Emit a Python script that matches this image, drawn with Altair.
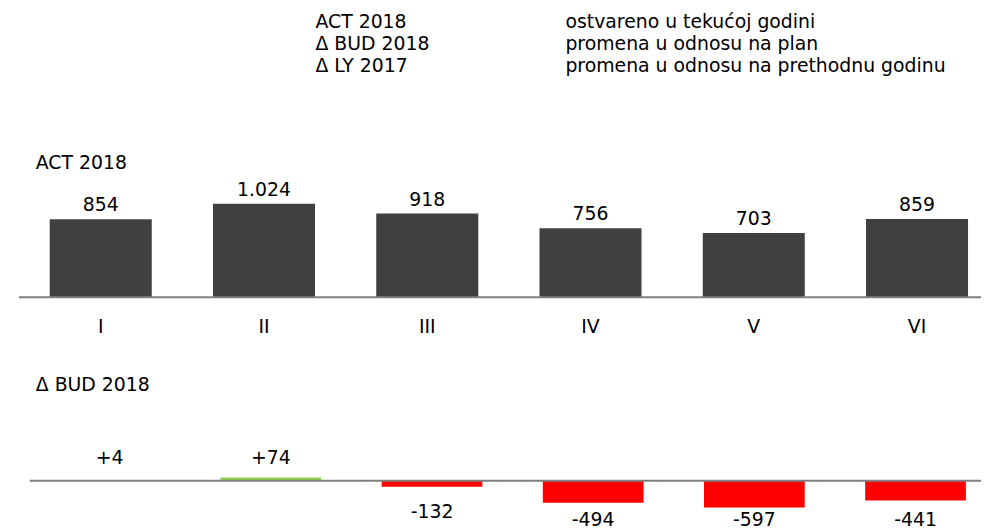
import altair as alt
import pandas as pd

# ---- data ----
months = ["I", "II", "III", "IV", "V", "VI"]
act_2018 = [854, 1024, 918, 756, 703, 859]
delta_bud = [4, 74, -132, -494, -597, -441]

legend_keys = ["ACT 2018", "Δ BUD 2018", "Δ LY 2017"]
legend_desc = [
    "ostvareno u tekućoj godini",
    "promena u odnosu na plan",
    "promena u odnosu na prethodnu godinu",
]
section_titles = ["ACT 2018", "Δ BUD 2018"]

FONT = "DejaVu Sans"
FS = 19
DARK = "#404040"
RED = "#FF0000"
GREEN = "#92D050"
AXIS = "#808080"

df = pd.DataFrame({
    "m": months,
    "act": act_2018,
    "bud": delta_bud,
    "act_lbl": [f"{v:,}".replace(",", ".") for v in act_2018],
    "bud_lbl": [f"{v:+d}" for v in delta_bud],
})
leg = pd.DataFrame({"row": list(range(len(legend_keys))), "k": legend_keys, "d": legend_desc})
zero = pd.DataFrame({"z": [0]})

xs_top = alt.Scale(domain=months, range=[11.2, 998.8], paddingInner=0.375, paddingOuter=0.1875)
ys_top = alt.Scale(domain=[0, 1000], range=[289.5, 197.5], nice=False, zero=False)
xs_bot = alt.Scale(domain=months, range=[21.25, 996.25], paddingInner=0.375, paddingOuter=0.1875)
ys_bot = alt.Scale(domain=[-600, 600], range=[501.5, 447.5], nice=False, zero=False)

base = alt.Chart(df)

# ---- top panel: ACT 2018 ----
top_bars = base.mark_bar(color=DARK).encode(
    x=alt.X("m:N", sort=months, scale=xs_top, axis=None),
    y=alt.Y("act:Q", scale=ys_top, axis=None),
    y2=alt.Y2(datum=0),
)
top_vals = base.mark_text(font=FONT, fontSize=FS, color="#000", baseline="middle", dy=-14).encode(
    x=alt.X("m:N", sort=months, scale=xs_top, axis=None),
    y=alt.Y("act:Q", scale=ys_top, axis=None),
    text="act_lbl:N",
)
top_cats = base.mark_text(font=FONT, fontSize=FS, color="#000", baseline="middle", dy=30).encode(
    x=alt.X("m:N", sort=months, scale=xs_top, axis=None),
    y=alt.Y(datum=0, type="quantitative", scale=ys_top, axis=None),
    text="m:N",
)
top_rule = alt.Chart(zero).mark_rule(color=AXIS, strokeWidth=2).encode(
    x=alt.value(11), x2=alt.value(981),
    y=alt.Y("z:Q", scale=ys_top, axis=None),
)

# ---- bottom panel: delta BUD 2018 ----
bot_bars = base.mark_bar().encode(
    x=alt.X("m:N", sort=months, scale=xs_bot, axis=None),
    y=alt.Y("bud:Q", scale=ys_bot, axis=None),
    y2=alt.Y2(datum=0),
    color=alt.when(alt.datum.bud >= 0).then(alt.value(GREEN)).otherwise(alt.value(RED)),
)
bot_pos = base.transform_filter(alt.datum.bud >= 0).mark_text(
    font=FONT, fontSize=FS, color="#000", baseline="middle", dy=-23
).encode(
    x=alt.X("m:N", sort=months, scale=xs_bot, axis=None),
    y=alt.Y(datum=0, type="quantitative", scale=ys_bot, axis=None),
    text="bud_lbl:N",
)
bot_neg = base.transform_filter(alt.datum.bud < 0).transform_calculate(
    lp="max(datum.bud - 578, -878)"
).mark_text(font=FONT, fontSize=FS, color="#000", baseline="middle").encode(
    x=alt.X("m:N", sort=months, scale=xs_bot, axis=None),
    y=alt.Y("lp:Q", scale=ys_bot, axis=None),
    text="bud_lbl:N",
)
bot_rule = alt.Chart(zero).mark_rule(color=AXIS, strokeWidth=2).encode(
    x=alt.value(22), x2=alt.value(981),
    y=alt.Y("z:Q", scale=ys_bot, axis=None),
)

# ---- legend text and section titles ----
leg_y = alt.Y("row:O", scale=alt.Scale(type="point", range=[12.5, 56.5], padding=0), axis=None)
leg_k = alt.Chart(leg).mark_text(font=FONT, fontSize=FS, color="#000", align="left", baseline="middle").encode(
    x=alt.value(310), y=leg_y, text="k:N"
)
leg_d = alt.Chart(leg).mark_text(font=FONT, fontSize=FS, color="#000", align="left", baseline="middle").encode(
    x=alt.value(562), y=leg_y, text="d:N"
)
t1 = alt.Chart(pd.DataFrame({"t": [section_titles[0]]})).mark_text(
    font=FONT, fontSize=FS, color="#000", align="left", baseline="middle"
).encode(x=alt.value(28), y=alt.value(154), text="t:N")
t2 = alt.Chart(pd.DataFrame({"t": [section_titles[1]]})).mark_text(
    font=FONT, fontSize=FS, color="#000", align="left", baseline="middle"
).encode(x=alt.value(28), y=alt.value(378.5), text="t:N")

chart = alt.layer(
    top_bars, top_rule, top_vals, top_cats,
    bot_bars, bot_rule, bot_pos, bot_neg,
    leg_k, leg_d, t1, t2,
).resolve_scale(
    x="independent", y="independent"
).properties(
    width=981, height=523, padding=0,
    autosize=alt.AutoSizeParams(type="none"),
).configure_view(stroke=None)

chart.save("out.html", embed_options={"renderer": "svg", "actions": False})
